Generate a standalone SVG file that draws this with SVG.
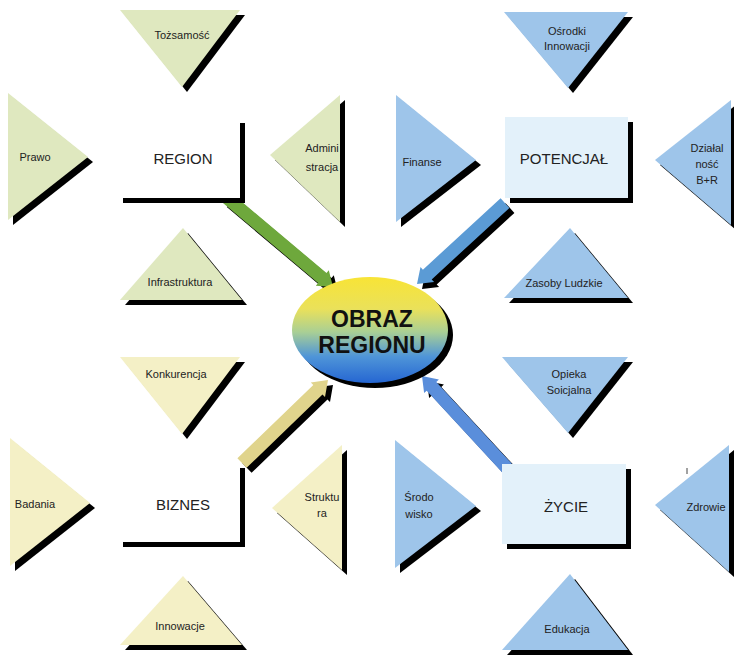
<svg xmlns="http://www.w3.org/2000/svg" width="734" height="658" viewBox="0 0 734 658">
<defs>
<style>
.sh{fill:#000}
.tg{fill:#dfe8bf}
.ty{fill:#f4f0c6}
.tb{fill:#9ec5ea}
.bw{fill:#ffffff}
.bb{fill:#e3f1fa}
text{font-family:"Liberation Sans",Arial,sans-serif;fill:#222;text-anchor:middle}
.s{font-size:11px}
.m{font-size:15px}
.big{font-size:23px;font-weight:bold;fill:#111}
</style>
<linearGradient id="eg" x1="0" y1="0" x2="0" y2="1">
<stop offset="0" stop-color="#f8e436"/>
<stop offset="0.3" stop-color="#eae15a"/>
<stop offset="0.52" stop-color="#a9cf95"/>
<stop offset="0.75" stop-color="#4f95d8"/>
<stop offset="1" stop-color="#2566d2"/>
</linearGradient>
</defs>
<rect width="734" height="658" fill="#fff"/>

<g id="connectors">
<polygon class="sh" transform="translate(5,5)" points="221.8,202 318.1,283 315.8,285.7 333,287 328.8,270.3 326.5,273 230.2,192"/>
<polygon fill="#6ea83c" points="221.8,202 318.1,283 315.8,285.7 333,287 328.8,270.3 326.5,273 230.2,192"/>
<polygon class="sh" transform="translate(5,5)" points="500.6,198.2 422.9,269.7 420.5,267.1 417,284 434.1,281.9 431.7,279.4 509.4,207.9"/>
<polygon fill="#5b9bd5" points="500.6,198.2 422.9,269.7 420.5,267.1 417,284 434.1,281.9 431.7,279.4 509.4,207.9"/>
<polygon class="sh" transform="translate(5,5)" points="246.6,467.8 322.5,394.5 325,397 328,380 310.8,382.4 313.3,384.9 237.4,458.2"/>
<polygon fill="#e0d48c" points="246.6,467.8 322.5,394.5 325,397 328,380 310.8,382.4 313.3,384.9 237.4,458.2"/>
<polygon class="sh" transform="translate(5,5)" points="511.8,463.6 436.3,381.9 438.9,379.5 422,376 424.1,393.1 426.7,390.7 502.2,472.4"/>
<polygon fill="#5a8edb" points="511.8,463.6 436.3,381.9 438.9,379.5 422,376 424.1,393.1 426.7,390.7 502.2,472.4"/>
</g>

<g id="obraz">
<ellipse class="sh" cx="375" cy="335" rx="78" ry="53"/>
<ellipse fill="url(#eg)" cx="370" cy="330" rx="78" ry="53"/>
<text class="big" x="372" y="327">OBRAZ</text>
<text class="big" x="372" y="353">REGIONU</text>
</g>

<g id="region">
<rect class="sh" x="123" y="123" width="122" height="80"/>
<rect class="bw" x="118" y="118" width="122" height="80"/>
<text class="m" x="183" y="164">REGION</text>
</g>
<g id="tozsamosc">
<polygon class="sh" transform="translate(5,5)" points="120,10 240,10 182,87"/>
<polygon class="tg" points="120,10 240,10 182,87"/>
<text class="s" x="182" y="39">Tożsamość</text>
</g>
<g id="prawo">
<polygon class="sh" transform="translate(5,5)" points="8,93 8,220 88,157"/>
<polygon class="tg" points="8,93 8,220 88,157"/>
<text class="s" x="35" y="161">Prawo</text>
</g>
<g id="administracja">
<polygon class="sh" transform="translate(5,5)" points="340,95 340,222 270,155"/>
<polygon class="tg" points="340,95 340,222 270,155"/>
<text class="s" x="322" y="152">Admini</text>
<text class="s" x="322" y="171">stracja</text>
</g>
<g id="infrastruktura">
<polygon class="sh" transform="translate(5,5)" points="183,228 242,300 120,300"/>
<polygon class="tg" points="183,228 242,300 120,300"/>
<text class="s" x="180" y="286">Infrastruktura</text>
</g>

<g id="potencjal">
<rect class="sh" x="510" y="122" width="123" height="81"/>
<rect class="bb" x="505" y="117" width="123" height="81"/>
<text class="m" x="564" y="164">POTENCJAŁ</text>
</g>
<g id="osrodki">
<polygon class="sh" transform="translate(5,5)" points="504,12 628,12 568,88"/>
<polygon class="tb" points="504,12 628,12 568,88"/>
<text class="s" x="567" y="35">Ośrodki</text>
<text class="s" x="567" y="50">Innowacji</text>
</g>
<g id="finanse">
<polygon class="sh" transform="translate(5,5)" points="396,95 396,222 476,160"/>
<polygon class="tb" points="396,95 396,222 476,160"/>
<text class="s" x="422" y="166">Finanse</text>
</g>
<g id="dzialalnosc">
<polygon class="sh" transform="translate(5,5)" points="731,100 731,225 655,160"/>
<polygon class="tb" points="731,100 731,225 655,160"/>
<text class="s" x="707" y="152">Działal</text>
<text class="s" x="707" y="168">ność</text>
<text class="s" x="707" y="184">B+R</text>
</g>
<g id="zasoby">
<polygon class="sh" transform="translate(5,5)" points="570,228 628,298 504,298"/>
<polygon class="tb" points="570,228 628,298 504,298"/>
<text class="s" x="564" y="287">Zasoby Ludzkie</text>
</g>

<g id="biznes">
<rect class="sh" x="123" y="468" width="122" height="79"/>
<rect class="bw" x="118" y="463" width="122" height="79"/>
<text class="m" x="183" y="510">BIZNES</text>
</g>
<g id="konkurencja">
<polygon class="sh" transform="translate(5,5)" points="120,357 240,357 182,434"/>
<polygon class="ty" points="120,357 240,357 182,434"/>
<text class="s" x="176" y="378">Konkurencja</text>
</g>
<g id="badania">
<polygon class="sh" transform="translate(5,5)" points="10,438 10,566 90,503"/>
<polygon class="ty" points="10,438 10,566 90,503"/>
<text class="s" x="35" y="508">Badania</text>
</g>
<g id="struktura">
<polygon class="sh" transform="translate(5,5)" points="342,445 342,570 272,508"/>
<polygon class="ty" points="342,445 342,570 272,508"/>
<text class="s" x="322" y="501">Struktu</text>
<text class="s" x="322" y="517">ra</text>
</g>
<g id="innowacje">
<polygon class="sh" transform="translate(5,5)" points="183,576 242,645 120,645"/>
<polygon class="ty" points="183,576 242,645 120,645"/>
<text class="s" x="180" y="630">Innowacje</text>
</g>

<g id="zycie">
<rect class="sh" x="507" y="469" width="124" height="80"/>
<rect class="bb" x="502" y="464" width="124" height="80"/>
<text class="m" x="566" y="512">ŻYCIE</text>
</g>
<g id="opieka">
<polygon class="sh" transform="translate(5,5)" points="502,357 628,357 568,433"/>
<polygon class="tb" points="502,357 628,357 568,433"/>
<text class="s" x="569" y="378">Opieka</text>
<text class="s" x="569" y="394">Soicjalna</text>
</g>
<g id="srodowisko">
<polygon class="sh" transform="translate(5,5)" points="395,440 395,568 476,506"/>
<polygon class="tb" points="395,440 395,568 476,506"/>
<text class="s" x="419" y="501">Środo</text>
<text class="s" x="419" y="518">wisko</text>
</g>
<g id="zdrowie">
<polygon class="sh" transform="translate(5,5)" points="729,445 729,572 655,505"/>
<polygon class="tb" points="729,445 729,572 655,505"/>
<text class="s" x="706" y="511">Zdrowie</text>
</g>
<g id="edukacja">
<polygon class="sh" transform="translate(5,5)" points="570,574 628,650 502,650"/>
<polygon class="tb" points="570,574 628,650 502,650"/>
<text class="s" x="567" y="633">Edukacja</text>
</g>
<line x1="687" y1="468" x2="687" y2="474" stroke="#444" stroke-width="1"/>
</svg>
